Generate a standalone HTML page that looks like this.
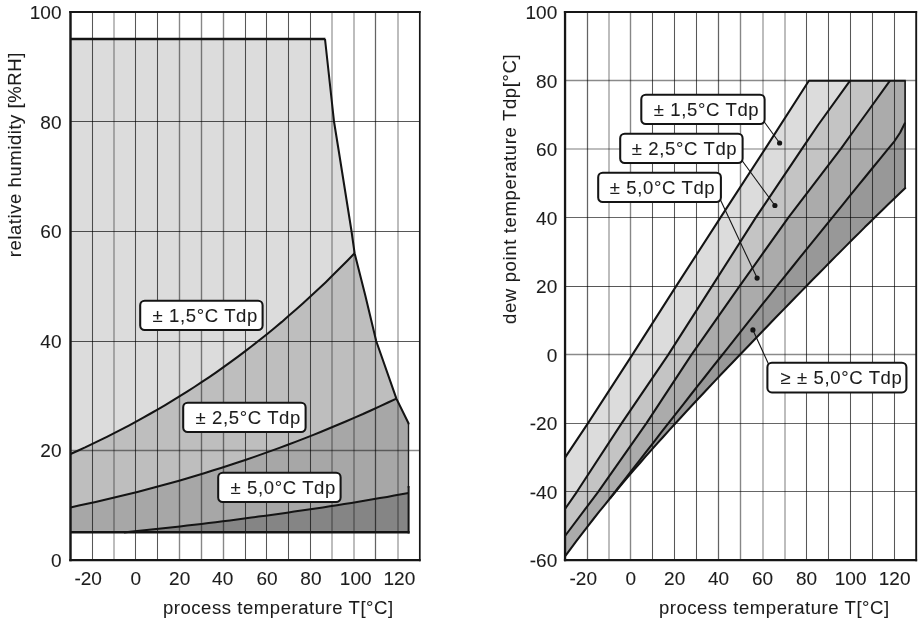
<!DOCTYPE html>
<html><head><meta charset="utf-8"><title>Dew point accuracy</title>
<style>
html,body{margin:0;padding:0;background:#fff;}
body{width:924px;height:629px;overflow:hidden;}
svg{display:block;}
text{font-family:"Liberation Sans",Arial,sans-serif;fill:#1c1c1c;stroke:#1c1c1c;stroke-width:0.08px;}
.tk{font-size:19px;letter-spacing:0.05px;}
.ax{font-size:18.5px;letter-spacing:0.56px;}
.lb{font-size:18.5px;letter-spacing:0.65px;}
</style></head><body>
<svg width="924" height="629" viewBox="0 0 924 629">
<rect width="924" height="629" fill="#fff"/>
<g id="left">
<polygon points="70.5,39.0 325.0,39.0 334.0,121.5 338.6,150.0 351.5,231.0 354.6,253.2 354.6,253.2 347.3,260.7 340.0,268.1 332.7,275.3 325.5,282.4 318.2,289.3 310.9,296.1 303.6,302.8 296.3,309.3 289.0,315.6 281.8,321.9 274.5,328.0 267.2,334.0 259.9,339.8 252.6,345.5 245.3,351.1 238.0,356.6 230.8,361.9 223.5,367.2 216.2,372.3 208.9,377.3 201.6,382.2 194.3,387.0 187.1,391.6 179.8,396.2 172.5,400.7 165.2,405.1 157.9,409.4 150.6,413.5 143.3,417.6 136.1,421.6 128.8,425.6 121.5,429.4 114.2,433.1 106.9,436.8 99.6,440.4 92.4,443.9 85.1,447.4 77.8,450.7 70.5,454.0" fill="#dcdcdc"/>
<polygon points="70.5,454.0 77.8,450.7 85.1,447.4 92.4,443.9 99.6,440.4 106.9,436.8 114.2,433.1 121.5,429.4 128.8,425.6 136.1,421.6 143.3,417.6 150.6,413.5 157.9,409.4 165.2,405.1 172.5,400.7 179.8,396.2 187.1,391.6 194.3,387.0 201.6,382.2 208.9,377.3 216.2,372.3 223.5,367.2 230.8,361.9 238.0,356.6 245.3,351.1 252.6,345.5 259.9,339.8 267.2,334.0 274.5,328.0 281.8,321.9 289.0,315.6 296.3,309.3 303.6,302.8 310.9,296.1 318.2,289.3 325.5,282.4 332.7,275.3 340.0,268.1 347.3,260.7 354.6,253.2 365.3,295.6 376.2,341.0 396.4,398.6 396.4,398.6 388.0,402.5 379.7,406.4 371.3,410.2 363.0,414.0 354.6,417.6 346.3,421.2 337.9,424.8 329.5,428.3 321.2,431.7 312.8,435.1 304.5,438.4 296.1,441.6 287.8,444.8 279.4,447.9 271.1,450.9 262.7,453.9 254.3,456.9 246.0,459.7 237.6,462.5 229.3,465.3 220.9,468.0 212.6,470.6 204.2,473.2 195.8,475.8 187.5,478.2 179.1,480.7 170.8,483.0 162.4,485.3 154.1,487.6 145.7,489.8 137.4,492.0 129.0,494.1 120.6,496.1 112.3,498.1 103.9,500.1 95.6,502.0 87.2,503.8 78.9,505.6 70.5,507.4" fill="#bebebe"/>
<polygon points="70.5,507.4 78.9,505.6 87.2,503.8 95.6,502.0 103.9,500.1 112.3,498.1 120.6,496.1 129.0,494.1 137.4,492.0 145.7,489.8 154.1,487.6 162.4,485.3 170.8,483.0 179.1,480.7 187.5,478.2 195.8,475.8 204.2,473.2 212.6,470.6 220.9,468.0 229.3,465.3 237.6,462.5 246.0,459.7 254.3,456.9 262.7,453.9 271.1,450.9 279.4,447.9 287.8,444.8 296.1,441.6 304.5,438.4 312.8,435.1 321.2,431.7 329.5,428.3 337.9,424.8 346.3,421.2 354.6,417.6 363.0,414.0 371.3,410.2 379.7,406.4 388.0,402.5 396.4,398.6 408.5,423.3 408.5,493.1 408.5,493.1 401.4,494.3 394.2,495.6 387.1,496.9 379.9,498.1 372.8,499.3 365.7,500.5 358.5,501.7 351.4,502.9 344.2,504.0 337.1,505.2 329.9,506.3 322.8,507.4 315.7,508.5 308.5,509.5 301.4,510.6 294.2,511.6 287.1,512.7 280.0,513.7 272.8,514.7 265.7,515.7 258.5,516.6 251.4,517.6 244.3,518.5 237.1,519.5 230.0,520.4 222.8,521.3 215.7,522.2 208.6,523.0 201.4,523.9 194.3,524.7 187.1,525.6 180.0,526.4 172.8,527.2 165.7,528.0 158.6,528.7 151.4,529.5 144.3,530.3 137.1,531.0 130.0,531.7 124.0,532.4 70.5,532.3" fill="#a7a7a7"/>
<polygon points="124.0,532.4 130.0,531.7 137.1,531.0 144.3,530.3 151.4,529.5 158.6,528.7 165.7,528.0 172.8,527.2 180.0,526.4 187.1,525.6 194.3,524.7 201.4,523.9 208.6,523.0 215.7,522.2 222.8,521.3 230.0,520.4 237.1,519.5 244.3,518.5 251.4,517.6 258.5,516.6 265.7,515.7 272.8,514.7 280.0,513.7 287.1,512.7 294.2,511.6 301.4,510.6 308.5,509.5 315.7,508.5 322.8,507.4 329.9,506.3 337.1,505.2 344.2,504.0 351.4,502.9 358.5,501.7 365.7,500.5 372.8,499.3 379.9,498.1 387.1,496.9 394.2,495.6 401.4,494.3 408.5,493.1 408.5,532.3" fill="#858585"/>
<line x1="92.5" y1="12.0" x2="92.5" y2="560.0" stroke="#000" stroke-opacity="0.66" stroke-width="1.05"/>
<line x1="114" y1="12.0" x2="114" y2="560.0" stroke="#000" stroke-opacity="0.26" stroke-width="2"/>
<line x1="135.5" y1="12.0" x2="135.5" y2="560.0" stroke="#000" stroke-opacity="0.66" stroke-width="1.05"/>
<line x1="157.5" y1="12.0" x2="157.5" y2="560.0" stroke="#000" stroke-opacity="0.66" stroke-width="1.05"/>
<line x1="179.5" y1="12.0" x2="179.5" y2="560.0" stroke="#000" stroke-opacity="0.47" stroke-width="1.4"/>
<line x1="201.5" y1="12.0" x2="201.5" y2="560.0" stroke="#000" stroke-opacity="0.47" stroke-width="1.4"/>
<line x1="223.5" y1="12.0" x2="223.5" y2="560.0" stroke="#000" stroke-opacity="0.47" stroke-width="1.4"/>
<line x1="245.5" y1="12.0" x2="245.5" y2="560.0" stroke="#000" stroke-opacity="0.66" stroke-width="1.05"/>
<line x1="266.5" y1="12.0" x2="266.5" y2="560.0" stroke="#000" stroke-opacity="0.66" stroke-width="1.05"/>
<line x1="288.5" y1="12.0" x2="288.5" y2="560.0" stroke="#000" stroke-opacity="0.66" stroke-width="1.05"/>
<line x1="310.5" y1="12.0" x2="310.5" y2="560.0" stroke="#000" stroke-opacity="0.66" stroke-width="1.05"/>
<line x1="332" y1="12.0" x2="332" y2="560.0" stroke="#000" stroke-opacity="0.26" stroke-width="2"/>
<line x1="354" y1="12.0" x2="354" y2="560.0" stroke="#000" stroke-opacity="0.26" stroke-width="2"/>
<line x1="375.5" y1="12.0" x2="375.5" y2="560.0" stroke="#000" stroke-opacity="0.61" stroke-width="1.25"/>
<line x1="398" y1="12.0" x2="398" y2="560.0" stroke="#000" stroke-opacity="0.26" stroke-width="2"/>
<line x1="70.5" y1="121.5" x2="420.0" y2="121.5" stroke="#000" stroke-opacity="0.66" stroke-width="1.05"/>
<line x1="70.5" y1="231.5" x2="420.0" y2="231.5" stroke="#000" stroke-opacity="0.66" stroke-width="1.05"/>
<line x1="70.5" y1="341.5" x2="420.0" y2="341.5" stroke="#000" stroke-opacity="0.66" stroke-width="1.05"/>
<line x1="70.5" y1="450.5" x2="420.0" y2="450.5" stroke="#000" stroke-opacity="0.46" stroke-width="1.4"/>
<polyline points="408.5,423.3 408.5,488.0" stroke="#1c1c1c" stroke-width="1.4" fill="none"/>
<polyline points="70.5,39.1 325.4,39.1" stroke="#141414" stroke-width="2.5" fill="none"/>
<polyline points="325.0,39.0 334.0,121.5 338.6,150.0 351.5,231.0 354.6,253.2 365.3,295.6 376.2,341.0 396.4,398.6 408.5,423.3 408.5,424.3" stroke="#141414" stroke-width="2.05" fill="none" stroke-linejoin="round"/>
<polyline points="408.6,486.0 408.6,533.5" stroke="#141414" stroke-width="2.0" fill="none"/>
<polyline points="409.6,532.3 70.5,532.3" stroke="#141414" stroke-width="2.5" fill="none"/>
<polyline points="70.5,454.0 77.8,450.7 85.1,447.4 92.4,443.9 99.6,440.4 106.9,436.8 114.2,433.1 121.5,429.4 128.8,425.6 136.1,421.6 143.3,417.6 150.6,413.5 157.9,409.4 165.2,405.1 172.5,400.7 179.8,396.2 187.1,391.6 194.3,387.0 201.6,382.2 208.9,377.3 216.2,372.3 223.5,367.2 230.8,361.9 238.0,356.6 245.3,351.1 252.6,345.5 259.9,339.8 267.2,334.0 274.5,328.0 281.8,321.9 289.0,315.6 296.3,309.3 303.6,302.8 310.9,296.1 318.2,289.3 325.5,282.4 332.7,275.3 340.0,268.1 347.3,260.7 354.6,253.2" stroke="#141414" stroke-width="2.05" fill="none" stroke-linejoin="round"/>
<polyline points="70.5,507.4 78.9,505.6 87.2,503.8 95.6,502.0 103.9,500.1 112.3,498.1 120.6,496.1 129.0,494.1 137.4,492.0 145.7,489.8 154.1,487.6 162.4,485.3 170.8,483.0 179.1,480.7 187.5,478.2 195.8,475.8 204.2,473.2 212.6,470.6 220.9,468.0 229.3,465.3 237.6,462.5 246.0,459.7 254.3,456.9 262.7,453.9 271.1,450.9 279.4,447.9 287.8,444.8 296.1,441.6 304.5,438.4 312.8,435.1 321.2,431.7 329.5,428.3 337.9,424.8 346.3,421.2 354.6,417.6 363.0,414.0 371.3,410.2 379.7,406.4 388.0,402.5 396.4,398.6" stroke="#141414" stroke-width="2.05" fill="none" stroke-linejoin="round"/>
<polyline points="124.0,532.4 130.0,531.7 137.1,531.0 144.3,530.3 151.4,529.5 158.6,528.7 165.7,528.0 172.8,527.2 180.0,526.4 187.1,525.6 194.3,524.7 201.4,523.9 208.6,523.0 215.7,522.2 222.8,521.3 230.0,520.4 237.1,519.5 244.3,518.5 251.4,517.6 258.5,516.6 265.7,515.7 272.8,514.7 280.0,513.7 287.1,512.7 294.2,511.6 301.4,510.6 308.5,509.5 315.7,508.5 322.8,507.4 329.9,506.3 337.1,505.2 344.2,504.0 351.4,502.9 358.5,501.7 365.7,500.5 372.8,499.3 379.9,498.1 387.1,496.9 394.2,495.6 401.4,494.3 408.5,493.1" stroke="#141414" stroke-width="2.05" fill="none" stroke-linejoin="round"/>
<line x1="70.5" y1="10.95" x2="70.5" y2="561.3" stroke="#161616" stroke-width="2.45"/><line x1="419.8" y1="10.95" x2="419.8" y2="561.3" stroke="#161616" stroke-width="1.7"/><line x1="69.275" y1="12.05" x2="420.65000000000003" y2="12.05" stroke="#161616" stroke-width="2.1"/><line x1="69.275" y1="560.1" x2="420.65000000000003" y2="560.1" stroke="#161616" stroke-width="2.4"/>
</g>
<g id="right">
<polygon points="565.0,457.6 588.2,422.9 632.1,355.1 676.0,286.4 720.6,217.4 765.3,148.6 808.9,80.7 850.1,80.7 818.1,125.0 802.1,148.6 755.9,217.4 711.9,286.4 668.0,355.1 621.9,422.9 576.9,491.8 565.0,509.0" fill="#dcdcdc"/>
<polygon points="565.0,509.0 576.9,491.8 621.9,422.9 668.0,355.1 711.9,286.4 755.9,217.4 802.1,148.6 818.1,125.0 850.1,80.7 890.0,80.7 867.4,112.0 857.9,125.0 841.0,148.6 788.5,217.4 739.4,286.4 691.2,355.1 646.5,423.1 598.2,491.8 565.0,536.0" fill="#c4c4c4"/>
<polygon points="565.0,536.0 598.2,491.8 646.5,423.1 691.2,355.1 739.4,286.4 788.5,217.4 841.0,148.6 857.9,125.0 867.4,112.0 890.0,80.7 905.1,80.7 905.1,122.6 900.2,132.5 894.4,141.3 887.1,150.2 879.8,159.1 872.5,168.0 865.2,177.0 857.9,185.9 850.6,194.8 843.4,203.8 836.1,212.8 828.8,221.8 821.5,230.8 814.2,239.8 806.9,248.9 799.6,257.9 792.3,267.0 785.0,276.1 777.7,285.2 770.4,294.3 763.1,303.4 755.8,312.6 748.6,321.7 741.3,330.9 734.0,340.1 726.7,349.3 719.4,358.5 712.1,367.7 704.8,377.0 697.5,386.2 690.2,395.5 682.9,404.8 675.6,414.1 668.3,423.4 661.0,432.7 653.8,442.1 646.5,451.4 639.2,460.8 631.9,470.2 624.6,479.6 617.3,489.0 610.0,498.4 605.4,504.1 599.6,511.2 593.8,518.5 588.1,525.8 582.3,533.3 576.5,540.9 570.8,548.6 565.0,556.4" fill="#ababab"/>
<polygon points="565.0,556.4 570.8,548.6 576.5,540.9 582.3,533.3 588.1,525.8 593.8,518.5 599.6,511.2 605.4,504.1 610.0,498.4 617.3,489.0 624.6,479.6 631.9,470.2 639.2,460.8 646.5,451.4 653.8,442.1 661.0,432.7 668.3,423.4 675.6,414.1 682.9,404.8 690.2,395.5 697.5,386.2 704.8,377.0 712.1,367.7 719.4,358.5 726.7,349.3 734.0,340.1 741.3,330.9 748.6,321.7 755.8,312.6 763.1,303.4 770.4,294.3 777.7,285.2 785.0,276.1 792.3,267.0 799.6,257.9 806.9,248.9 814.2,239.8 821.5,230.8 828.8,221.8 836.1,212.8 843.4,203.8 850.6,194.8 857.9,185.9 865.2,177.0 872.5,168.0 879.8,159.1 887.1,150.2 894.4,141.3 900.2,132.5 905.1,122.6 905.3,187.9 899.5,193.6 893.8,199.1 888.0,204.6 882.2,210.2 876.5,215.8 870.7,221.5 864.9,227.1 859.2,232.9 853.4,238.6 847.6,244.4 841.9,250.1 836.1,255.9 830.3,261.8 824.6,267.6 818.8,273.5 813.0,279.3 807.2,285.2 801.5,291.1 795.7,297.0 789.9,303.0 784.2,308.9 778.4,314.8 772.6,320.8 766.9,326.7 761.1,332.7 755.3,338.7 749.6,344.7 743.8,350.7 738.0,356.7 732.3,362.7 726.5,368.8 720.7,374.8 715.0,380.9 709.2,387.0 703.4,393.2 697.7,399.3 691.9,405.5 686.1,411.7 680.4,418.0 674.6,424.3 668.8,430.6 663.1,437.0 657.3,443.4 651.5,449.9 645.7,456.4 640.0,463.0 634.2,469.6 628.4,476.4 622.7,483.2 616.9,490.1 611.1,497.0 605.4,504.1 599.6,511.2 593.8,518.5 588.1,525.8 582.3,533.3 576.5,540.9 570.8,548.6 565.0,556.4" fill="#989898"/>
<line x1="587.5" y1="12.0" x2="587.5" y2="560.0" stroke="#000" stroke-opacity="0.61" stroke-width="1.25"/>
<line x1="609" y1="12.0" x2="609" y2="560.0" stroke="#000" stroke-opacity="0.26" stroke-width="2"/>
<line x1="630.5" y1="12.0" x2="630.5" y2="560.0" stroke="#000" stroke-opacity="0.47" stroke-width="1.4"/>
<line x1="652.5" y1="12.0" x2="652.5" y2="560.0" stroke="#000" stroke-opacity="0.66" stroke-width="1.05"/>
<line x1="674.5" y1="12.0" x2="674.5" y2="560.0" stroke="#000" stroke-opacity="0.66" stroke-width="1.05"/>
<line x1="696.5" y1="12.0" x2="696.5" y2="560.0" stroke="#000" stroke-opacity="0.66" stroke-width="1.05"/>
<line x1="718.5" y1="12.0" x2="718.5" y2="560.0" stroke="#000" stroke-opacity="0.61" stroke-width="1.25"/>
<line x1="740.5" y1="12.0" x2="740.5" y2="560.0" stroke="#000" stroke-opacity="0.47" stroke-width="1.4"/>
<line x1="763" y1="12.0" x2="763" y2="560.0" stroke="#000" stroke-opacity="0.26" stroke-width="2"/>
<line x1="785" y1="12.0" x2="785" y2="560.0" stroke="#000" stroke-opacity="0.26" stroke-width="2"/>
<line x1="806.5" y1="12.0" x2="806.5" y2="560.0" stroke="#000" stroke-opacity="0.66" stroke-width="1.05"/>
<line x1="828.5" y1="12.0" x2="828.5" y2="560.0" stroke="#000" stroke-opacity="0.66" stroke-width="1.05"/>
<line x1="850.5" y1="12.0" x2="850.5" y2="560.0" stroke="#000" stroke-opacity="0.66" stroke-width="1.05"/>
<line x1="872.5" y1="12.0" x2="872.5" y2="560.0" stroke="#000" stroke-opacity="0.66" stroke-width="1.05"/>
<line x1="894.5" y1="12.0" x2="894.5" y2="560.0" stroke="#000" stroke-opacity="0.66" stroke-width="1.05"/>
<line x1="564.75" y1="491.5" x2="916.75" y2="491.5" stroke="#000" stroke-opacity="0.60" stroke-width="1.2"/>
<line x1="564.75" y1="423.5" x2="916.75" y2="423.5" stroke="#000" stroke-opacity="0.60" stroke-width="1.2"/>
<line x1="564.75" y1="354.5" x2="916.75" y2="354.5" stroke="#000" stroke-opacity="0.46" stroke-width="1.4"/>
<line x1="564.75" y1="286.5" x2="916.75" y2="286.5" stroke="#000" stroke-opacity="0.66" stroke-width="1.05"/>
<line x1="564.75" y1="217.5" x2="916.75" y2="217.5" stroke="#000" stroke-opacity="0.60" stroke-width="1.2"/>
<line x1="564.75" y1="149" x2="916.75" y2="149" stroke="#000" stroke-opacity="0.26" stroke-width="2"/>
<line x1="564.75" y1="80.5" x2="916.75" y2="80.5" stroke="#000" stroke-opacity="0.46" stroke-width="1.4"/>
<polyline points="905.1,80.7 905.1,187.8" stroke="#1c1c1c" stroke-width="1.7" fill="none"/>
<polyline points="565.0,457.6 588.2,422.9 632.1,355.1 676.0,286.4 720.6,217.4 765.3,148.6 808.9,80.7 905.8,80.7" stroke="#141414" stroke-width="2.05" fill="none" stroke-linejoin="round"/>
<polyline points="905.7,187.4 905.3,187.9 899.5,193.6 893.8,199.1 888.0,204.6 882.2,210.2 876.5,215.8 870.7,221.5 864.9,227.1 859.2,232.9 853.4,238.6 847.6,244.4 841.9,250.1 836.1,255.9 830.3,261.8 824.6,267.6 818.8,273.5 813.0,279.3 807.2,285.2 801.5,291.1 795.7,297.0 789.9,303.0 784.2,308.9 778.4,314.8 772.6,320.8 766.9,326.7 761.1,332.7 755.3,338.7 749.6,344.7 743.8,350.7 738.0,356.7 732.3,362.7 726.5,368.8 720.7,374.8 715.0,380.9 709.2,387.0 703.4,393.2 697.7,399.3 691.9,405.5 686.1,411.7 680.4,418.0 674.6,424.3 668.8,430.6 663.1,437.0 657.3,443.4 651.5,449.9 645.7,456.4 640.0,463.0 634.2,469.6 628.4,476.4 622.7,483.2 616.9,490.1 611.1,497.0 605.4,504.1 599.6,511.2 593.8,518.5 588.1,525.8 582.3,533.3 576.5,540.9 570.8,548.6 565.0,556.4" stroke="#141414" stroke-width="2.05" fill="none" stroke-linejoin="round"/>
<polyline points="565.0,509.0 576.9,491.8 621.9,422.9 668.0,355.1 711.9,286.4 755.9,217.4 802.1,148.6 818.1,125.0 850.1,80.7" stroke="#141414" stroke-width="2.05" fill="none" stroke-linejoin="round"/>
<polyline points="565.0,536.0 598.2,491.8 646.5,423.1 691.2,355.1 739.4,286.4 788.5,217.4 841.0,148.6 857.9,125.0 867.4,112.0 890.0,80.7" stroke="#141414" stroke-width="2.05" fill="none" stroke-linejoin="round"/>
<polyline points="610.0,498.4 617.3,489.0 624.6,479.6 631.9,470.2 639.2,460.8 646.5,451.4 653.8,442.1 661.0,432.7 668.3,423.4 675.6,414.1 682.9,404.8 690.2,395.5 697.5,386.2 704.8,377.0 712.1,367.7 719.4,358.5 726.7,349.3 734.0,340.1 741.3,330.9 748.6,321.7 755.8,312.6 763.1,303.4 770.4,294.3 777.7,285.2 785.0,276.1 792.3,267.0 799.6,257.9 806.9,248.9 814.2,239.8 821.5,230.8 828.8,221.8 836.1,212.8 843.4,203.8 850.6,194.8 857.9,185.9 865.2,177.0 872.5,168.0 879.8,159.1 887.1,150.2 894.4,141.3 900.2,132.5 905.1,122.6" stroke="#141414" stroke-width="2.05" fill="none" stroke-linejoin="round"/>
<line x1="565.05" y1="10.95" x2="565.05" y2="561.3" stroke="#161616" stroke-width="2.3"/><line x1="916.2" y1="10.95" x2="916.2" y2="561.3" stroke="#161616" stroke-width="1.9"/><line x1="563.9" y1="12.05" x2="917.1500000000001" y2="12.05" stroke="#161616" stroke-width="2.1"/><line x1="563.9" y1="560.1" x2="917.1500000000001" y2="560.1" stroke="#161616" stroke-width="2.4"/>
</g>
<g id="labels">
<rect x="140.2" y="300.7" width="122.4" height="29.3" rx="4.5" ry="4.5" fill="#fff" stroke="#141414" stroke-width="2.05"/><text x="152.4" y="321.5" class="lb">± 1,5°C Tdp</text>
<rect x="183.2" y="402.7" width="122.4" height="29.3" rx="4.5" ry="4.5" fill="#fff" stroke="#141414" stroke-width="2.05"/><text x="195.4" y="423.5" class="lb">± 2,5°C Tdp</text>
<rect x="218.2" y="472.7" width="122.4" height="29.3" rx="4.5" ry="4.5" fill="#fff" stroke="#141414" stroke-width="2.05"/><text x="230.4" y="493.5" class="lb">± 5,0°C Tdp</text>
<line x1="764" y1="121.5" x2="779.6" y2="143" stroke="#141414" stroke-width="1.1"/><circle cx="779.6" cy="143" r="2.6" fill="#141414"/>
<line x1="742" y1="160.5" x2="774.9" y2="205.5" stroke="#141414" stroke-width="1.1"/><circle cx="774.9" cy="205.5" r="2.6" fill="#141414"/>
<line x1="720.5" y1="200" x2="757.1" y2="278.1" stroke="#141414" stroke-width="1.1"/><circle cx="757.1" cy="278.1" r="2.6" fill="#141414"/>
<line x1="768.5" y1="364" x2="752.9" y2="329.9" stroke="#141414" stroke-width="1.1"/><circle cx="752.9" cy="329.9" r="2.6" fill="#141414"/>
<rect x="641.3" y="94.7" width="123.3" height="29.3" rx="4.5" ry="4.5" fill="#fff" stroke="#141414" stroke-width="2.05"/><text x="653.7" y="115.5" class="lb">± 1,5°C Tdp</text>
<rect x="620.2" y="133.7" width="122.4" height="29.3" rx="4.5" ry="4.5" fill="#fff" stroke="#141414" stroke-width="2.05"/><text x="631.7" y="154.5" class="lb">± 2,5°C Tdp</text>
<rect x="598.2" y="172.7" width="122.7" height="29.3" rx="4.5" ry="4.5" fill="#fff" stroke="#141414" stroke-width="2.05"/><text x="609.7" y="193.5" class="lb">± 5,0°C Tdp</text>
<rect x="767.4" y="362.7" width="139" height="29.7" rx="4.5" ry="4.5" fill="#fff" stroke="#141414" stroke-width="2.05"/><text x="780.3" y="384.3" class="lb">≥ ± 5,0°C Tdp</text>
</g>
<g id="axes">
<text x="61.6" y="566.9" text-anchor="end" class="tk">0</text>
<text x="61.6" y="457.3" text-anchor="end" class="tk">20</text>
<text x="61.6" y="347.7" text-anchor="end" class="tk">40</text>
<text x="61.6" y="238.1" text-anchor="end" class="tk">60</text>
<text x="61.6" y="128.5" text-anchor="end" class="tk">80</text>
<text x="61.6" y="18.9" text-anchor="end" class="tk">100</text>
<text x="88.2" y="585.2" text-anchor="middle" class="tk">-20</text>
<text x="135.8" y="585.2" text-anchor="middle" class="tk">0</text>
<text x="179.7" y="585.2" text-anchor="middle" class="tk">20</text>
<text x="222.7" y="585.2" text-anchor="middle" class="tk">40</text>
<text x="267.1" y="585.2" text-anchor="middle" class="tk">60</text>
<text x="310.9" y="585.2" text-anchor="middle" class="tk">80</text>
<text x="355.7" y="585.2" text-anchor="middle" class="tk">100</text>
<text x="399.4" y="585.2" text-anchor="middle" class="tk">120</text>
<text x="557.3" y="567.0" text-anchor="end" class="tk">-60</text>
<text x="557.3" y="498.5" text-anchor="end" class="tk">-40</text>
<text x="557.3" y="430.0" text-anchor="end" class="tk">-20</text>
<text x="557.3" y="361.5" text-anchor="end" class="tk">0</text>
<text x="557.3" y="293.0" text-anchor="end" class="tk">20</text>
<text x="557.3" y="224.5" text-anchor="end" class="tk">40</text>
<text x="557.3" y="156.0" text-anchor="end" class="tk">60</text>
<text x="557.3" y="87.5" text-anchor="end" class="tk">80</text>
<text x="557.3" y="19.0" text-anchor="end" class="tk">100</text>
<text x="583.3" y="585.2" text-anchor="middle" class="tk">-20</text>
<text x="630.7" y="585.2" text-anchor="middle" class="tk">0</text>
<text x="674.7" y="585.2" text-anchor="middle" class="tk">20</text>
<text x="718.6" y="585.2" text-anchor="middle" class="tk">40</text>
<text x="762.6" y="585.2" text-anchor="middle" class="tk">60</text>
<text x="806.6" y="585.2" text-anchor="middle" class="tk">80</text>
<text x="850.6" y="585.2" text-anchor="middle" class="tk">100</text>
<text x="894.6" y="585.2" text-anchor="middle" class="tk">120</text>
<text x="278.3" y="614" text-anchor="middle" class="ax">process temperature T[°C]</text>
<text x="774.3" y="614" text-anchor="middle" class="ax">process temperature T[°C]</text>
<text transform="translate(20.9,154.7) rotate(-90)" text-anchor="middle" class="ax">relative humidity [%RH]</text>
<text transform="translate(515.6,188.8) rotate(-90)" text-anchor="middle" class="ax" style="letter-spacing:0.64px">dew point temperature Tdp[°C]</text>
</g>
</svg>
</body></html>
